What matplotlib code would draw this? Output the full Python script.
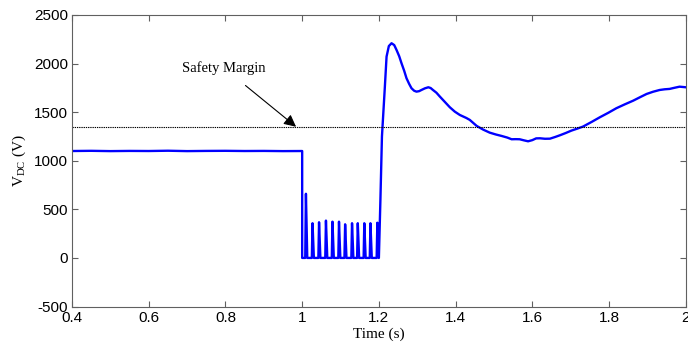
import numpy as np
import matplotlib.pyplot as plt

# DC-link voltage before the fault (V)
pre_t = [0.40, 0.45, 0.50, 0.55, 0.60, 0.65, 0.70, 0.75, 0.80, 0.85, 0.90, 0.95, 1.00]
pre_v = [1100, 1102, 1099, 1101, 1100, 1103, 1099, 1101, 1102, 1100, 1101, 1099, 1100]

# chopper spikes during the fault
spike_t = [1.0098, 1.027, 1.044, 1.062, 1.079, 1.096, 1.112, 1.130, 1.145, 1.162, 1.178, 1.196]
spike_v = [660, 357, 367, 384, 373, 373, 346, 357, 357, 357, 357, 362]

# recovery after fault clearing
rec_t = [1.200, 1.204, 1.208, 1.2156, 1.220, 1.226, 1.233, 1.240, 1.246, 1.253, 1.259,
         1.266, 1.272, 1.279, 1.285, 1.292, 1.298, 1.305, 1.311, 1.320, 1.329, 1.335,
         1.341, 1.350, 1.359, 1.372, 1.385, 1.398, 1.411, 1.428, 1.437, 1.455, 1.472,
         1.489, 1.505, 1.520, 1.535, 1.546, 1.557, 1.567, 1.578, 1.589, 1.600, 1.610,
         1.620, 1.633, 1.646, 1.660, 1.672, 1.687, 1.702, 1.717, 1.732, 1.755, 1.776,
         1.798, 1.819, 1.841, 1.863, 1.880, 1.898, 1.915, 1.932, 1.945, 1.958, 1.970,
         1.984, 2.000]
rec_v = [0, 600, 1250, 1762, 2071, 2180, 2209, 2190, 2140, 2075, 2003,
         1925, 1849, 1790, 1746, 1720, 1711, 1716, 1728, 1745, 1756, 1748,
         1728, 1700, 1660, 1605, 1550, 1505, 1471, 1440, 1420, 1358, 1320,
         1289, 1270, 1255, 1238, 1221, 1222, 1221, 1210, 1200, 1212, 1230,
         1231, 1226, 1227, 1245, 1262, 1285, 1310, 1330, 1351, 1400, 1447,
         1493, 1540, 1580, 1618, 1652, 1687, 1710, 1728, 1735, 1739, 1750,
         1762, 1756]

margin_v = 1350

# assemble the full trace
t = list(pre_t)
v = list(pre_v)
t += [1.0, 1.0]
v += [0, 0]
for ts, vs in zip(spike_t, spike_v):
    t += [ts - 0.0018, ts, ts + 0.0035]
    v += [0, vs, 0]
t += rec_t
v += rec_v

plt.rcParams['font.family'] = ['Liberation Sans', 'DejaVu Sans']
plt.rcParams['axes.unicode_minus'] = False
plt.rcParams['mathtext.fontset'] = 'custom'
plt.rcParams['mathtext.rm'] = 'Liberation Serif'

fig = plt.figure(figsize=(6.88, 3.56), dpi=100)
ax = fig.add_axes([0.1047, 0.139, 0.892, 0.819])

ax.plot(t, v, color='#0000ff', lw=1.7)
ax.axhline(margin_v, color='black', lw=0.8, ls=(0, (1.2, 0.8)))

ax.annotate('Safety Margin', xy=(0.984, margin_v), xytext=(0.796, 1955),
            ha='center', va='center', fontsize=10.5, family='Liberation Serif',
            arrowprops=dict(arrowstyle='-|>', color='black', lw=0.8,
                            mutation_scale=18, shrinkA=9, shrinkB=0))

ax.set_xlim(0.4, 2.0)
ax.set_ylim(-500, 2500)
ax.set_xticks([0.4, 0.6, 0.8, 1.0, 1.2, 1.4, 1.6, 1.8, 2.0])
ax.set_xticklabels(['0.4', '0.6', '0.8', '1', '1.2', '1.4', '1.6', '1.8', '2'])
ax.set_yticks([-500, 0, 500, 1000, 1500, 2000, 2500])

ax.tick_params(direction='in', length=4, width=0.8, color='#606060',
               top=True, right=True, labelsize=11, pad=3)
for s in ax.spines.values():
    s.set_color('#606060')
    s.set_linewidth(0.8)

ax.set_xlabel('Time (s)', family='Liberation Serif', fontsize=11, labelpad=2)
ax.set_ylabel(r'V$_{\mathrm{DC}}$ (V)', family='Liberation Serif', fontsize=11, labelpad=4)

fig.savefig('out.png', dpi=100)
